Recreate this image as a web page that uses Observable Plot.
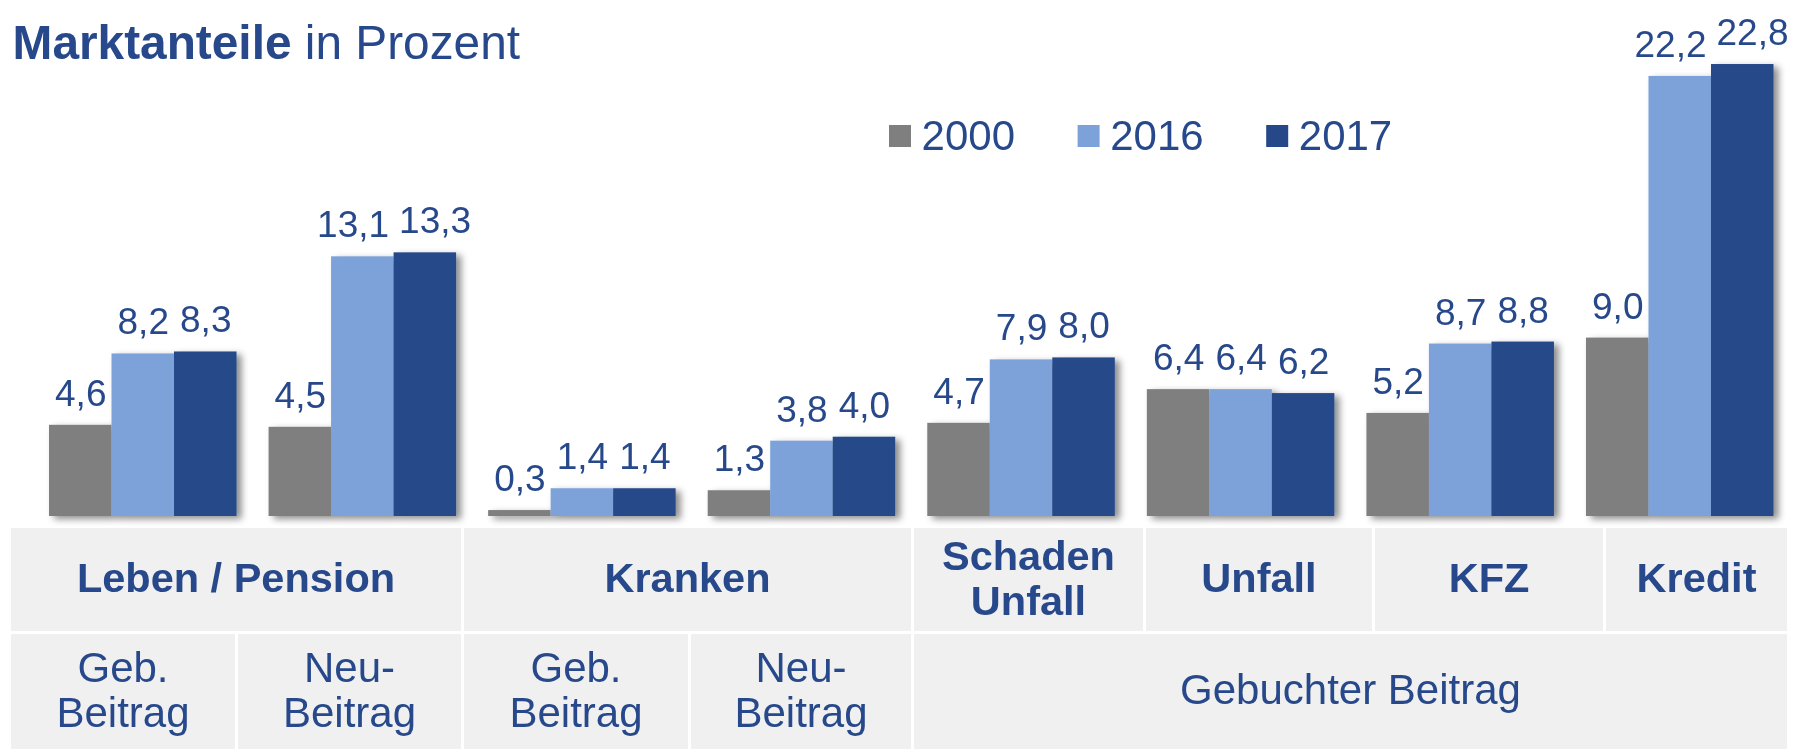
<!DOCTYPE html>
<html><head><meta charset="utf-8">
<script src="https://cdn.jsdelivr.net/npm/d3@7"></script>
<script src="https://cdn.jsdelivr.net/npm/@observablehq/plot@0.6"></script>
<style>
html,body{margin:0;padding:0;background:#fff;overflow:hidden}
#wrap{position:relative;width:1802px;height:750px}
#wrap svg{position:absolute;left:0;top:0}
</style></head><body><div id="wrap"></div>
<script>
// ---- data ----
const categories = ["Leben Geb. Beitrag","Leben Neu-Beitrag","Kranken Geb. Beitrag","Kranken Neu-Beitrag","Schaden Unfall","Unfall","KFZ","Kredit"];
const years = ["2000","2016","2017"];
const values2000 = [4.6, 4.5, 0.3, 1.3, 4.7, 6.4, 5.2, 9.0];
const values2016 = [8.2, 13.1, 1.4, 3.8, 7.9, 6.4, 8.7, 22.2];
const values2017 = [8.3, 13.3, 1.4, 4.0, 8.0, 6.2, 8.8, 22.8];
const sectorLabels = ["Leben / Pension","Kranken","Schaden\nUnfall","Unfall","KFZ","Kredit"];
const premiumLabels = ["Geb.\nBeitrag","Neu-\nBeitrag","Geb.\nBeitrag","Neu-\nBeitrag","Gebuchter Beitrag"];
const titleBold = "Marktanteile";
const titleRest = " in Prozent";

// ---- styles / layout ----
const FONT = "'Liberation Sans', Arial, sans-serif";
const TXT = "#27498b";
const COLORS = ["#7f7f7f", "#7ca2d9", "#264889"];
const CELL = "#f0f0f0";
const row1Cells = [[11,461],[464,911],[914,1143],[1146,1372],[1375,1603],[1606,1787]];
const row2Cells = [[11,235],[238,461],[464,688],[691,911],[914,1787]];
const row1Y = [528, 631], row2Y = [634, 749];

const seriesValues = [values2000, values2016, values2017];
const rows = categories.flatMap((c, i) => years.map((y, j) => ({cat: c, year: y, value: seriesValues[j][i]})));
const fmt = v => v.toFixed(1).replace(".", ",");

const plot = Plot.plot({
  width: 1802, height: 527,
  marginTop: 0, marginBottom: 11, marginLeft: 49, marginRight: 28.5,
  style: {fontFamily: FONT, background: "transparent", overflow: "visible"},
  fx: {domain: categories, axis: null, paddingInner: 0.146, paddingOuter: 0, round: false},
  x: {domain: years, axis: null, padding: 0, round: false},
  y: {domain: [0, 26.03], axis: null},
  color: {domain: years, range: COLORS},
  marks: [
    Plot.barY(rows, {fx: "cat", x: "year", y: "value", fill: "year"}),
    Plot.text(rows, {fx: "cat", x: "year", y: "value", text: d => fmt(d.value),
      lineAnchor: "bottom", dy: -19.5, fill: TXT, fontSize: 37, fontFamily: FONT})
  ]
});
const wrap = document.getElementById("wrap");
wrap.appendChild(plot);

// drop shadow on bars
const ns = "http://www.w3.org/2000/svg";
const defs = document.createElementNS(ns, "defs");
defs.innerHTML = '<filter id="barShadow" x="-10%" y="-10%" width="130%" height="125%"><feDropShadow dx="5" dy="3" stdDeviation="3.5" flood-color="#000" flood-opacity="0.45"/></filter>';
plot.insertBefore(defs, plot.firstChild);
plot.querySelectorAll('g[aria-label="bar"]').forEach(g => g.setAttribute("filter", "url(#barShadow)"));

// separate overlapping value labels
const texts = Array.from(plot.querySelectorAll('g[aria-label="text"] text'));
const byParent = d3.group(texts, t => t.parentNode);
for (const [, ts] of byParent) {
  const items = ts.map(t => ({t, r: t.getBoundingClientRect()})).sort((a, b) => a.r.left - b.r.left);
  for (let i = 0; i < items.length - 1; i++) {
    const a = items[i], b = items[i + 1];
    const vOverlap = a.r.top < b.r.bottom && b.r.top < a.r.bottom;
    const over = a.r.right + 10 - b.r.left;
    if (vOverlap && over > 0) {
      a.t.setAttribute("transform", (a.t.getAttribute("transform") || "") + ` translate(${-over / 2},0)`);
      b.t.setAttribute("transform", (b.t.getAttribute("transform") || "") + ` translate(${over / 2},0)`);
    }
  }
}

// ---- overlay: title, legend, category table ----
const ov = d3.create("svg").attr("width", 1802).attr("height", 750)
  .style("font-family", FONT).style("pointer-events", "none");

const title = ov.append("text").attr("x", 12.6).attr("y", 59.3).attr("font-size", 47.8).attr("fill", TXT);
title.append("tspan").attr("font-weight", "bold").text(titleBold);
title.append("tspan").text(titleRest);

const legend = ov.append("g");
years.forEach((y, i) => {
  const x0 = 889 + i * 188.6;
  legend.append("rect").attr("x", x0).attr("y", 125).attr("width", 22).attr("height", 22).attr("fill", COLORS[i]);
  legend.append("text").attr("x", x0 + 32.6).attr("y", 150).attr("font-size", 42).attr("fill", TXT).text(y);
});

function cells(cellsDef, yr, labels, weight, fs) {
  const g = ov.append("g");
  cellsDef.forEach(([l, r], i) => {
    g.append("rect").attr("x", l).attr("y", yr[0]).attr("width", r - l).attr("height", yr[1] - yr[0]).attr("fill", CELL);
    const lines = labels[i].split("\n");
    const cy = (yr[0] + yr[1]) / 2, lh = 45;
    const t = g.append("text").attr("text-anchor", "middle").attr("font-size", fs)
      .attr("font-weight", weight).attr("fill", TXT);
    lines.forEach((ln, k) => {
      t.append("tspan").attr("x", (l + r) / 2)
        .attr("y", cy + 12.7 + (k - (lines.length - 1) / 2) * lh).text(ln);
    });
  });
}
cells(row1Cells, row1Y, sectorLabels, "bold", 41.5);
cells(row2Cells, row2Y, premiumLabels, "normal", 42);

wrap.appendChild(ov.node());
</script></body></html>
